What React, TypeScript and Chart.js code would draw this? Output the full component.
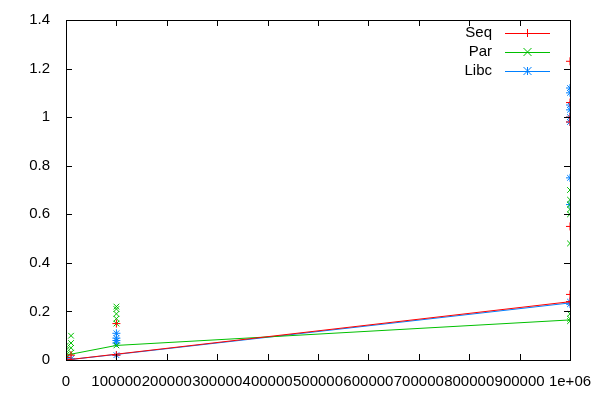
import { useEffect, useRef } from 'react';
import Chart from 'chart.js/auto';

const xTicks = [0, 100000, 200000, 300000, 400000, 500000, 600000, 700000, 800000, 900000, 1000000];
const yTicks = [0, 0.2, 0.4, 0.6, 0.8, 1, 1.2, 1.4];

// trend lines
const lineX = [0, 100000, 1000000];
const seqLine = [0, 0.024, 0.24];
const parLine = [0.02, 0.06, 0.165];
const libcLine = [0, 0.023, 0.235];

// measured points
const seqX = [100, 1000, 10000, 100000, 100000, 1000000, 1000000, 1000000, 1000000, 1000000, 1000000, 1000000];
const seqY = [0.0, 0.01, 0.02, 0.02, 0.15, 1.23, 1.06, 1.0, 0.98, 0.55, 0.27, 0.24];
const parX = [100, 100, 100, 10000, 10000, 10000, 10000, 100000, 100000, 100000, 100000, 100000, 100000, 1000000, 1000000, 1000000, 1000000, 1000000, 1000000, 1000000, 1000000, 1000000];
const parY = [0.06, 0.04, 0.02, 0.1, 0.07, 0.05, 0.03, 0.22, 0.21, 0.19, 0.17, 0.15, 0.06, 0.7, 0.66, 0.64, 0.62, 0.6, 0.48, 0.19, 0.17, 0.16];
const libcX = [100, 1000, 10000, 100000, 100000, 100000, 100000, 100000, 1000000, 1000000, 1000000, 1000000, 1000000, 1000000, 1000000, 1000000, 1000000, 1000000];
const libcY = [0.0, 0.01, 0.005, 0.11, 0.09, 0.08, 0.07, 0.02, 1.12, 1.1, 1.05, 1.03, 1.0, 0.98, 0.75, 0.64, 0.24, 0.23];

const series = [
  { label: 'Seq', color: '#ff0000', style: 'cross', line: seqLine, xs: seqX, ys: seqY },
  { label: 'Par', color: '#00c000', style: 'crossRot', line: parLine, xs: parX, ys: parY },
  { label: 'Libc', color: '#0080ff', style: 'star', line: libcLine, xs: libcX, ys: libcY },
];

const FONT = '"Liberation Sans", Arial, sans-serif';

const frame = {
  id: 'frame',
  afterDraw(chart: any) {
    const { ctx, chartArea: a, scales } = chart;
    ctx.save();
    ctx.strokeStyle = '#000';
    ctx.lineWidth = 1;
    ctx.strokeRect(a.left + 0.5, a.top + 0.5, a.right - a.left, a.bottom - a.top);
    ctx.beginPath();
    for (const v of xTicks) {
      const x = Math.round(scales.x.getPixelForValue(v)) + 0.5;
      ctx.moveTo(x, a.bottom); ctx.lineTo(x, a.bottom - 6);
      ctx.moveTo(x, a.top); ctx.lineTo(x, a.top + 6);
    }
    for (const v of yTicks) {
      const y = Math.round(scales.y.getPixelForValue(v)) + 0.5;
      ctx.moveTo(a.left, y); ctx.lineTo(a.left + 6, y);
      ctx.moveTo(a.right, y); ctx.lineTo(a.right - 6, y);
    }
    ctx.stroke();
    // legend
    ctx.font = '15px ' + FONT;
    ctx.textAlign = 'right';
    ctx.textBaseline = 'middle';
    series.forEach((s, i) => {
      const y = 33 + i * 19;
      ctx.fillStyle = '#000';
      ctx.fillText(s.label, 492, y);
      ctx.strokeStyle = s.color;
      ctx.beginPath();
      ctx.moveTo(505, y + 0.5); ctx.lineTo(550, y + 0.5);
      ctx.stroke();
      ctx.beginPath();
      const c = 527.5, r = 4;
      if (s.style !== 'crossRot') { ctx.moveTo(c - r, y + 0.5); ctx.lineTo(c + r, y + 0.5); ctx.moveTo(c, y - r); ctx.lineTo(c, y + r); }
      if (s.style !== 'cross') { ctx.moveTo(c - r, y - r); ctx.lineTo(c + r, y + r); ctx.moveTo(c - r, y + r); ctx.lineTo(c + r, y - r); }
      ctx.stroke();
    });
    ctx.restore();
  },
};

export default function App() {
  const ref = useRef<HTMLCanvasElement>(null);
  useEffect(() => {
    if (!ref.current) return;
    const datasets: any[] = [];
    for (const s of series) {
      datasets.push({
        type: 'line', label: s.label, data: lineX.map((x, i) => ({ x, y: s.line[i] })),
        borderColor: s.color, borderWidth: 1, pointRadius: 0,
      });
      datasets.push({
        type: 'scatter', label: s.label, data: s.xs.map((x, i) => ({ x, y: s.ys[i] })),
        borderColor: s.color, backgroundColor: s.color, pointStyle: s.style, pointRadius: 4, pointBorderWidth: 1,
      });
    }
    const chart = new Chart(ref.current, {
      type: 'scatter',
      data: { datasets },
      options: {
        animation: false,
        responsive: false,
        layout: { padding: { top: 20, right: 30, left: 0, bottom: 0 } },
        plugins: { legend: { display: false }, tooltip: { enabled: false } },
        scales: {
          x: {
            type: 'linear', min: 0, max: 1000000,
            afterBuildTicks: (sc: any) => { sc.ticks = xTicks.map((v) => ({ value: v })); },
            afterFit: (sc: any) => { sc.height = 40; },
            grid: { display: false }, border: { display: false },
            ticks: {
              color: '#000', font: { family: FONT, size: 15 }, maxRotation: 0, autoSkip: false, padding: 5,
              callback: (v: any) => (v === 1000000 ? '1e+06' : String(v)),
            },
          },
          y: {
            min: 0, max: 1.4,
            afterBuildTicks: (sc: any) => { sc.ticks = yTicks.map((v) => ({ value: v })); },
            afterFit: (sc: any) => { sc.width = 66; },
            grid: { display: false }, border: { display: false },
            ticks: { color: '#000', font: { family: FONT, size: 15 }, padding: 8, callback: (v: any) => String(Math.round(v * 10) / 10) },
          },
        },
      },
      plugins: [frame],
    });
    return () => chart.destroy();
  }, []);
  return (
    <div style={{ position: 'fixed', left: 0, top: 0, width: 600, height: 400, background: '#fff' }}>
      <canvas ref={ref} width={600} height={400} />
    </div>
  );
}
